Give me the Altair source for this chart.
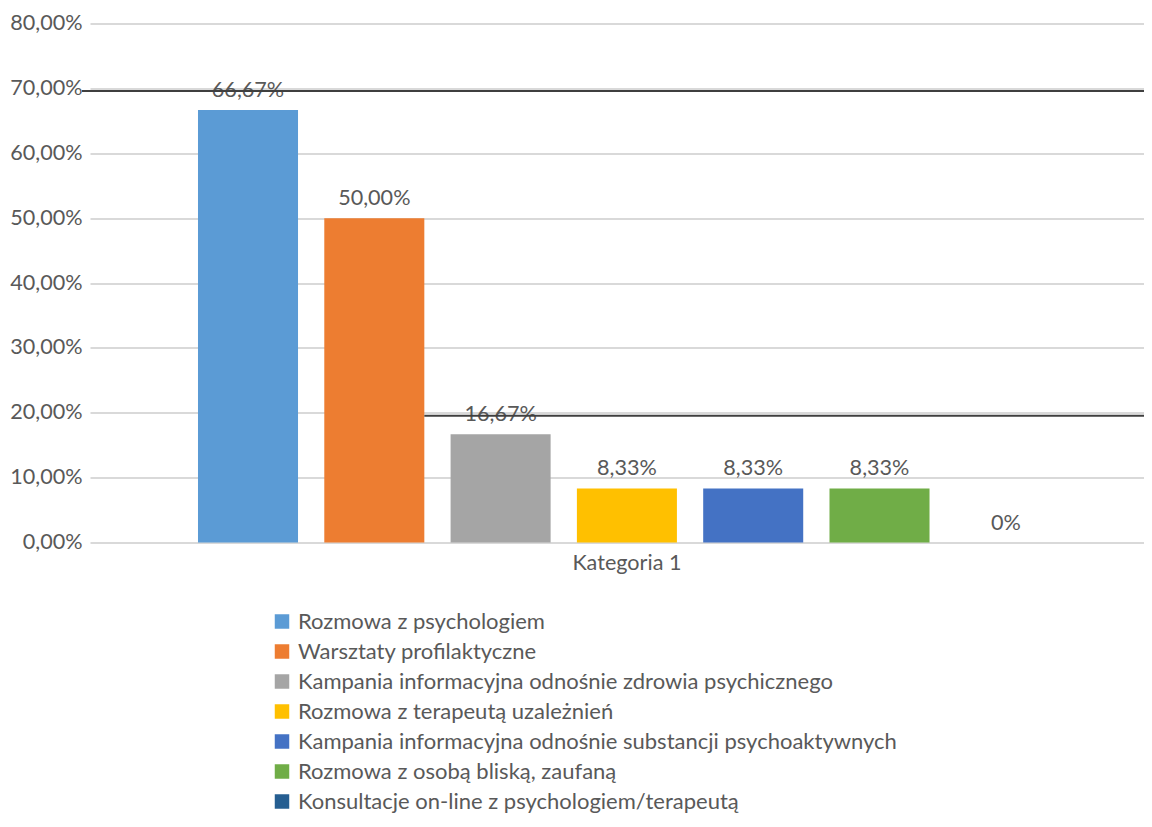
import altair as alt
import pandas as pd

# ---- data ----
series = [
    "Rozmowa z psychologiem",
    "Warsztaty profilaktyczne",
    "Kampania informacyjna odnośnie zdrowia psychicznego",
    "Rozmowa z terapeutą uzależnień",
    "Kampania informacyjna odnośnie substancji psychoaktywnych",
    "Rozmowa z osobą bliską, zaufaną",
    "Konsultacje on-line z psychologiem/terapeutą",
]
values = [0.6667, 0.5000, 0.1667, 0.0833, 0.0833, 0.0833, 0.0]
value_labels = ["66,67%", "50,00%", "16,67%", "8,33%", "8,33%", "8,33%", "0%"]
colors = ["#5B9BD5", "#ED7D31", "#A5A5A5", "#FFC000", "#4472C4", "#70AD47", "#255E91"]
category = "Kategoria 1"
y_ticks = [0.0, 0.1, 0.2, 0.3, 0.4, 0.5, 0.6, 0.7, 0.8]
# two dark horizontal lines drawn over the chart
line_upper = [0.696]
line_lower = [0.1955]

# ---- layout ----
W, H = 1054, 519
FONT = "Lato"
FS = 21.6
TXT = "#595959"

df = pd.DataFrame({"series": series, "value": values, "label": value_labels})


def x_enc(band_position=None):
    kw = {}
    if band_position is not None:
        kw["bandPosition"] = band_position
    return alt.X(
        "series:N",
        sort=series,
        scale=alt.Scale(domain=series, paddingInner=0.208, paddingOuter=0.7766, align=0.5505),
        axis=alt.Axis(
            values=[series[3]],
            labelExpr=f"'{category}'",
            title=None,
            ticks=False,
            domain=False,
            grid=False,
            labelAngle=0,
            labelFontSize=FS,
            labelColor=TXT,
            labelFont=FONT,
            labelPadding=10,
        ),
        **kw,
    )


y_enc = alt.Y(
    "value:Q",
    scale=alt.Scale(domain=[0, 0.8], nice=False),
    axis=alt.Axis(
        values=y_ticks,
        labelExpr="replace(format(datum.value, '.2%'), '.', ',')",
        title=None,
        ticks=False,
        domain=False,
        grid=True,
        gridColor="#D9D9D9",
        gridWidth=1.8,
        labelFontSize=FS,
        labelColor=TXT,
        labelFont=FONT,
        labelPadding=8,
    ),
)

base = alt.Chart(df)

bars = base.mark_bar().encode(
    x=x_enc(),
    y=y_enc,
    color=alt.Color(
        "series:N",
        sort=series,
        scale=alt.Scale(domain=series, range=colors),
        legend=alt.Legend(
            orient="none",
            legendX=181,
            legendY=587,
            direction="vertical",
            title=None,
            symbolType="square",
            symbolSize=210,
            symbolStrokeWidth=0,
            labelFontSize=22,
            labelColor=TXT,
            labelFont=FONT,
            labelLimit=0,
            labelOffset=5,
            rowPadding=8.0,
        ),
    ),
)

texts = base.mark_text(baseline="alphabetic", dy=-13, fontSize=FS, color=TXT, font=FONT).encode(
    x=x_enc(),
    y=y_enc,
    text="label:N",
)

rule_up = alt.Chart(pd.DataFrame({"value": line_upper})).mark_rule(
    color="#3F3F3F", strokeWidth=2
).encode(y=y_enc, x=alt.value(-8), x2=alt.value(W))

rule_low = alt.Chart(pd.DataFrame({"value": line_lower, "series": [series[1]]})).mark_rule(
    color="#3F3F3F", strokeWidth=2
).encode(y=y_enc, x=x_enc(band_position=1), x2=alt.value(W))

chart = (
    alt.layer(bars, texts, rule_up, rule_low)
    .properties(
        width=W,
        height=H,
        autosize=alt.AutoSizeParams(type="none"),
        padding={"left": 82, "top": 15.5, "right": 0, "bottom": 272.5},
    )
    .configure(font=FONT)
    .configure_view(stroke=None)
)

chart.save("out.html", embed_options={"renderer": "svg", "actions": False})
